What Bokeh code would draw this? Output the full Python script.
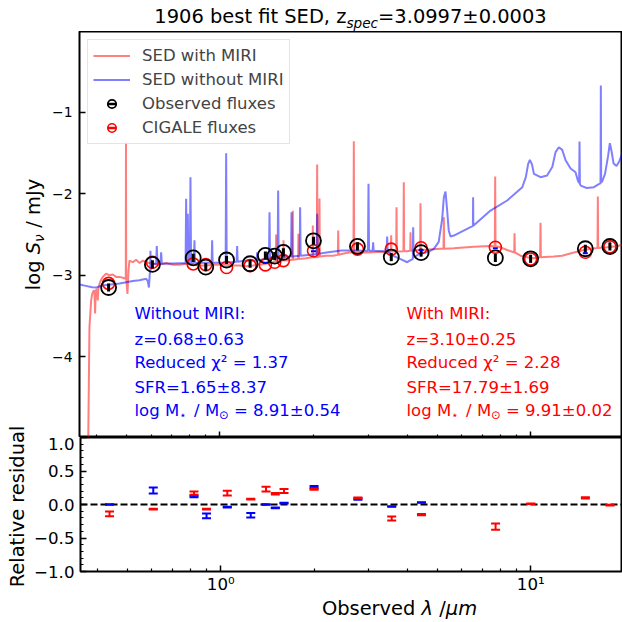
import numpy as np
from bokeh.plotting import figure
from bokeh.models import FixedTicker, Label, Legend, LegendItem, Span, Range1d, GridBox
from bokeh.embed import file_html
from bokeh.resources import INLINE

FONT = "DejaVu Sans"

# ---------------- data ----------------
# SED with MIRI (red), wavelength in micron, log S_nu / mJy
sed_mir_lam = [
    0.353, 0.372, 0.3754, 0.380, 0.3848, 0.3877, 0.3915, 0.3944, 0.3963, 0.3982,
    0.4012, 0.4042, 0.4062, 0.4114, 0.4195, 0.4247, 0.4299, 0.4407, 0.4517, 0.463,
    0.4747, 0.4866, 0.495, 0.4975, 0.4982, 0.4990, 0.5010, 0.5038, 0.5075, 0.5112,
    0.5241, 0.537, 0.5512, 0.5646, 0.5784, 0.5929, 0.6077, 0.638, 0.67, 0.705,
    0.7404, 0.7782, 0.818, 0.8586, 0.902, 0.948, 0.9955, 1.047, 1.10, 1.155,
    1.214, 1.276, 1.34, 1.408, 1.48, 1.513, 1.5165, 1.520, 1.555, 1.598,
    1.6015, 1.605, 1.633, 1.712, 1.716, 1.720, 1.785, 1.789, 1.793, 1.894,
    1.985, 1.990, 1.995, 2.050, 2.055, 2.060, 2.086, 2.091, 2.096, 2.197,
    2.308, 2.396, 2.402, 2.408, 2.462, 2.6, 2.690, 2.697, 2.704, 2.85,
    3.007, 3.2, 3.453, 3.548, 3.557, 3.566, 3.692, 3.701, 3.710, 3.896,
    3.906, 3.916, 4.0, 4.096, 4.106, 4.116, 4.41, 4.421, 4.432, 4.7,
    5.128, 5.243, 5.256, 5.269, 5.661, 6.566, 7.428, 7.67, 7.69, 7.71,
    7.9, 8.405, 8.855, 8.877, 8.899, 9.28, 9.75, 10.19, 10.73, 10.76,
    10.79, 11.88, 12.64, 13.78, 14.84, 15.6, 16.42, 16.46, 16.50, 17.64,
    17.95, 17.99, 18.03, 18.77, 19.77, 20.5]
sed_mir_logf = [
    -6.0, -6.0, -5.5, -3.64, -3.31, -3.23, -3.19, -3.19, -3.47, -3.19,
    -3.17, -3.31, -3.15, -3.08, -3.02, -3.00, -2.98, -3.00, -2.99, -3.02,
    -3.02, -3.03, -3.04, -3.04, -1.37, -3.05, -3.12, -3.23, -2.95, -2.82,
    -2.84, -2.81, -2.85, -2.82, -2.84, -2.85, -2.86, -2.87, -2.85, -2.87,
    -2.87, -2.86, -2.87, -2.88, -2.88, -2.87, -2.87, -2.87, -2.88, -2.88,
    -2.89, -2.88, -2.87, -2.86, -2.84, -2.83, -2.50, -2.83, -2.82, -2.82,
    -2.57, -2.82, -2.82, -2.81, -2.21, -2.81, -2.80, -2.49, -2.80, -2.79,
    -2.78, -2.39, -2.78, -2.78, -1.64, -2.78, -2.77, -2.06, -2.77, -2.76,
    -2.76, -2.75, -2.45, -2.75, -2.74, -2.72, -2.72, -1.356, -2.72, -2.72,
    -2.72, -2.715, -2.715, -2.71, -2.51, -2.71, -2.71, -2.166, -2.71, -2.705,
    -1.859, -2.705, -2.705, -2.70, -2.472, -2.70, -2.69, -2.117, -2.69, -2.685,
    -2.676, -2.675, -2.29, -2.675, -2.67, -2.65, -2.64, -2.645, -1.789, -2.645,
    -2.65, -2.69, -2.72, -2.485, -2.72, -2.76, -2.78, -2.79, -2.78, -2.357,
    -2.78, -2.77, -2.76, -2.72, -2.69, -2.675, -2.667, -2.034, -2.666, -2.656,
    -2.653, -2.57, -2.652, -2.645, -2.627, -2.62]

# SED without MIRI (blue)
sed_nomir_lam = [
    0.353, 0.37, 0.3877, 0.40, 0.4143, 0.4299, 0.4517, 0.4747, 0.4988, 0.524,
    0.55, 0.5784, 0.5855, 0.5905, 0.5944, 0.5963, 0.5973, 0.5983, 0.6077, 0.623,
    0.626, 0.629, 0.643, 0.6465, 0.650, 0.70, 0.7404, 0.775, 0.7782, 0.7814,
    0.7848, 0.7878, 0.7908, 0.800, 0.8035, 0.807, 0.824, 0.8276, 0.831, 0.90,
    0.940, 0.9436, 0.947, 1.00, 1.043, 1.0468, 1.051, 1.131, 1.1357, 1.140,
    1.2141, 1.312, 1.3173, 1.322, 1.40, 1.438, 1.4436, 1.449, 1.533, 1.5392,
    1.545, 1.60, 1.693, 1.6993, 1.706, 1.805, 1.8114, 1.818, 1.99, 2.048,
    2.055, 2.062, 2.2, 2.462, 2.7, 2.995, 3.007, 3.019, 3.10, 3.112,
    3.124, 3.44, 3.453, 3.466, 3.6, 3.8, 4.005, 4.176, 4.188, 4.20,
    4.421, 4.65, 4.88, 5.06, 5.192, 5.256, 5.321, 5.387, 5.45, 5.523,
    5.661, 6.52, 6.53, 6.54, 7.428, 8.405, 9.03, 9.4, 9.65, 9.82,
    9.944, 10.1, 10.25, 10.76, 11.3, 11.75, 12.03, 12.33, 12.64, 12.96,
    13.45, 13.95, 14.2, 14.33, 14.37, 14.41, 14.5, 15.15, 15.98, 16.63,
    16.79, 16.83, 16.87, 17.0, 17.36, 17.77, 17.99, 18.2, 18.5, 18.9,
    19.3, 19.77, 20.5]
sed_nomir_logf = [
    -3.114, -3.13, -3.147, -3.15, -3.13, -3.12, -3.11, -3.10, -3.086, -3.07,
    -3.06, -3.044, -3.07, -3.15, -2.98, -2.95, -2.70, -2.93, -2.86, -2.86,
    -2.64, -2.86, -2.86, -2.72, -2.86, -2.855, -2.852, -2.852, -2.063, -2.852,
    -2.852, -2.247, -2.852, -2.852, -1.797, -2.852, -2.85, -2.57, -2.85, -2.848,
    -2.848, -2.57, -2.848, -2.845, -2.843, -1.503, -2.843, -2.835, -2.64, -2.835,
    -2.82, -2.82, -2.72, -2.82, -2.80, -2.795, -2.227, -2.795, -2.785, -1.961,
    -2.785, -2.78, -2.77, -2.227, -2.77, -2.76, -2.166, -2.76, -2.745, -2.74,
    -2.247, -2.74, -2.72, -2.697, -2.697, -2.70, -1.879, -2.70, -2.70, -2.595,
    -2.70, -2.705, -2.525, -2.705, -2.758, -2.80, -2.84, -2.80, -2.411, -2.78,
    -2.73, -2.718, -2.676, -2.59, -2.308, -2.043, -1.973, -2.206, -2.45, -2.525,
    -2.513, -2.395, -2.043, -2.392, -2.206, -2.083, -1.98, -1.92, -1.797, -1.634,
    -1.584, -1.64, -1.756, -1.797, -1.776, -1.67, -1.49, -1.43, -1.462, -1.59,
    -1.69, -1.736, -1.84, -1.87, -1.36, -1.88, -1.90, -1.93, -1.92, -1.88,
    -1.87, -0.672, -1.86, -1.85, -1.756, -1.53, -1.38, -1.47, -1.63, -1.66,
    -1.60, -1.50, -1.49]

# photometric bands
band_lam = [0.438, 0.606, 0.82, 0.90, 1.05, 1.25, 1.40, 1.50, 1.60, 2.00,
            2.77, 3.56, 4.44, 7.7, 10.0, 15.0, 18.0]
obs_logf = [-3.150, -2.867, -2.787, -2.900, -2.813, -2.859, -2.757, -2.765, -2.720, -2.577,
            -2.645, -2.777, -2.722, -2.787, -2.798, -2.675, -2.647]
obs_err = [0.05, 0.05, 0.05, 0.05, 0.05, 0.05, 0.05, 0.05, 0.05, 0.05,
           0.05, 0.05, 0.05, 0.05, 0.05, 0.05, 0.05]
cigale_logf = [-3.100, -2.840, -2.861, -2.870, -2.905, -2.882, -2.873, -2.840, -2.820, -2.700,
               -2.680, -2.680, -2.662, -2.656, -2.800, -2.718, -2.650]
blue_mark_lam = [1.40, 2.00, 4.44, 7.7, 15.0]
blue_mark_logf = [-2.848, -2.705, -2.689, -2.669, -2.730]

# relative residuals
nir_lam = [0.438, 0.606, 0.82, 0.90, 1.05, 1.25, 1.40, 1.50, 1.60, 2.00, 2.77, 3.56, 4.44]
res_blue = [0.00, 0.21, 0.12, -0.17, -0.04, -0.16, 0.00, -0.05, 0.02, 0.26, 0.08, -0.03, 0.03]
res_blue_err = [0.005, 0.045, 0.012, 0.035, 0.006, 0.035, 0.003, 0.006, 0.006, 0.015, 0.008, 0.005, 0.005]
res_red = [-0.14, -0.07, 0.17, -0.07, 0.17, 0.08, 0.23, 0.16, 0.20, 0.23,
           0.10, -0.21, -0.15, -0.33, 0.01, 0.10, -0.01]
res_red_err = [0.035, 0.006, 0.025, 0.006, 0.035, 0.006, 0.035, 0.012, 0.03, 0.01,
               0.006, 0.03, 0.01, 0.045, 0.004, 0.01, 0.006]

# ticks
x_major = [1, 10]
x_minor = [0.4, 0.5, 0.6, 0.7, 0.8, 0.9, 2, 3, 4, 5, 6, 7, 8, 9]
x_labels = {1: "10\u2070", 10: "10\u00b9"}
y1_major = [-4, -3, -2, -1]
y1_labels = {-4: "\u22124", -3: "\u22123", -2: "\u22122", -1: "\u22121"}
y2_major = [-1, -0.5, 0, 0.5, 1]
y2_minor = [-0.9, -0.8, -0.7, -0.6, -0.4, -0.3, -0.2, -0.1, 0.1, 0.2, 0.3, 0.4, 0.6, 0.7, 0.8, 0.9]
y2_labels = {-1: "\u22121.0", -0.5: "\u22120.5", 0: "0.0", 0.5: "0.5", 1: "1.0"}

# ---------------- layout (grid tracks in px) ----------------
ROWS = [31, 392, 14, 159, 26]
COLS = [31, 16, 575]
T = 19.44      # title / axis-label font px
A = 16.5       # legend / annotation font px
MID = 0.35     # offset (em) between Bokeh's anchor line and the alphabetic baseline

xr = Range1d(0.353, 19.76)


def blank(w, h):
    f = figure(width=w, height=h, output_backend="svg", toolbar_location=None,
               x_range=Range1d(0, 1), y_range=Range1d(0, 1),
               min_border_left=0, min_border_right=0, min_border_top=0, min_border_bottom=0,
               x_axis_location=None, y_axis_location=None)
    f.outline_line_color = None
    f.background_fill_color = "white"
    f.border_fill_color = "white"
    f.xgrid.visible = False
    f.ygrid.visible = False
    return f


p1 = figure(width=COLS[2], height=ROWS[1] + ROWS[2], x_axis_type="log", x_range=xr,
            y_range=Range1d(-4.99, -0.01), output_backend="svg", toolbar_location=None,
            min_border_left=79 - COLS[0] - COLS[1], min_border_right=0,
            min_border_top=0, min_border_bottom=0)
p2 = figure(width=COLS[1] + COLS[2], height=ROWS[3], x_axis_type="log", x_range=xr,
            y_range=Range1d(-1, 1), output_backend="svg", toolbar_location=None,
            min_border_left=79 - COLS[0], min_border_right=0, min_border_top=0,
            min_border_bottom=ROWS[3] - 136)

for p, fs in ((p1, "13.9px"), (p2, "16.67px")):
    p.xgrid.visible = False
    p.ygrid.visible = False
    p.outline_line_color = "black"
    p.outline_line_width = 2
    p.outline_line_alpha = 1
    p.background_fill_color = "white"
    p.border_fill_color = "white"
    for ax in (p.xaxis[0], p.yaxis[0]):
        ax.axis_line_color = None
        ax.major_tick_in = 6
        ax.major_tick_out = 0
        ax.minor_tick_in = 3
        ax.minor_tick_out = 0
        ax.major_tick_line_color = "black"
        ax.minor_tick_line_color = "black"
        ax.major_tick_line_width = 1.5
        ax.minor_tick_line_width = 1.2
        ax.major_label_text_font = FONT
        ax.major_label_text_font_size = fs
        ax.major_label_text_color = "black"
    p.xaxis.ticker = FixedTicker(ticks=x_major, minor_ticks=x_minor)

p1.xaxis.major_label_overrides = {k: "" for k in x_major}
p1.xaxis.major_label_text_font_size = "0px"
p1.xaxis.major_label_standoff = 0
p1.yaxis.ticker = FixedTicker(ticks=y1_major)
p1.yaxis.major_label_overrides = y1_labels
p1.yaxis.major_label_standoff = 7

p2.xaxis.major_label_overrides = x_labels
p2.xaxis.major_label_standoff = 3
p2.yaxis.ticker = FixedTicker(ticks=y2_major, minor_ticks=y2_minor)
p2.yaxis.major_label_overrides = y2_labels
p2.yaxis.major_label_standoff = 6

# ---------------- top panel ----------------
r_red = p1.line(sed_mir_lam, sed_mir_logf, line_color="red", line_alpha=0.5, line_width=2)
r_blue = p1.line(sed_nomir_lam, sed_nomir_logf, line_color="blue", line_alpha=0.5, line_width=2)

obs = np.array(obs_logf)
oerr = np.array(obs_err)
r_cig = p1.scatter(band_lam, cigale_logf, marker="circle", size=12, fill_color=None,
                   line_color="red", line_width=1.6)
r_cig_bar = p1.scatter(band_lam, cigale_logf, marker="dash", angle=np.pi / 2, size=0,
                       line_color="red", line_width=2.5)
r_obs = p1.scatter(band_lam, obs_logf, marker="circle", size=15, fill_color=None,
                   line_color="black", line_width=1.8)
p1.segment(x0=band_lam, y0=list(obs - oerr), x1=band_lam, y1=list(obs + oerr),
           line_color="black", line_width=3)
r_obs_bar = p1.scatter(band_lam, obs_logf, marker="dash", angle=np.pi / 2, size=0,
                       line_color="black", line_width=2.5)
p1.scatter(blue_mark_lam, blue_mark_logf, marker="dash", size=5, line_color="blue", line_width=2)

legend = Legend(items=[
    LegendItem(label="SED with MIRI", renderers=[r_red]),
    LegendItem(label="SED without MIRI", renderers=[r_blue]),
    LegendItem(label="Observed fluxes", renderers=[r_obs, r_obs_bar]),
    LegendItem(label="CIGALE fluxes", renderers=[r_cig, r_cig_bar]),
], location="top_left")
legend.margin = 8
legend.padding = 5
legend.spacing = 3
legend.glyph_width = 37
legend.glyph_height = 21
legend.label_height = 21
legend.label_standoff = 12
legend.label_text_font = FONT
legend.label_text_font_size = "%.2fpx" % A
legend.border_line_color = "#cccccc"
legend.border_line_width = 1
legend.background_fill_alpha = 0.8
p1.add_layout(legend)

# ---------------- bottom panel ----------------
zero = Span(location=0, dimension="width", line_color="black", line_width=2,
            line_dash="7 3", level="underlay")
p2.add_layout(zero)

for lam, res, err, col in ((nir_lam, res_blue, res_blue_err, "blue"),
                           (band_lam, res_red, res_red_err, "red")):
    r = np.array(res)
    e = np.array(err)
    p2.segment(x0=lam, y0=list(r - e), x1=lam, y1=list(r + e), line_color=col, line_width=2)
    p2.scatter(lam, list(r - e), marker="dash", size=9, line_color=col, line_width=2)
    p2.scatter(lam, list(r + e), marker="dash", size=9, line_color=col, line_width=2)

# ---------------- texts ----------------
CW = {' ': 0.318, '.': 0.318, ',': 0.318, '=': 0.838, '\u00b1': 0.838, '/': 0.337, ':': 0.337,
      'a': 0.613, 'b': 0.635, 'c': 0.550, 'd': 0.635, 'e': 0.615, 'f': 0.352, 'g': 0.635,
      'h': 0.634, 'i': 0.278, 'l': 0.278, 'm': 0.974, 'n': 0.634, 'o': 0.612, 'p': 0.635,
      'r': 0.411, 's': 0.521, 't': 0.392, 'u': 0.634, 'v': 0.592, 'y': 0.592, 'z': 0.525,
      'D': 0.770, 'E': 0.632, 'J': 0.295, 'M': 0.863, 'O': 0.787, 'S': 0.635,
      '\u03bb': 0.592, '\u03bc': 0.636, '\u03bd': 0.592, '\u22c6': 0.838, '\u2299': 0.838}
for d in "0123456789":
    CW[d] = 0.636


def tw(s, px):
    return sum(CW.get(c, 0.6) for c in s) * px


def seg_label(p, x, y, text, px, color, style="normal", angle=0.0, align="left"):
    """(x, y): alphabetic baseline start, screen units from the frame's bottom-left."""
    if angle == 0:
        y = y + MID * px
    else:
        x = x - MID * px
    p.add_layout(Label(x=x, y=y, x_units="screen", y_units="screen", text=text,
                       text_font=FONT, text_font_size="%.2fpx" % px, text_color=color,
                       text_font_style=style, angle=angle, text_align=align,
                       text_baseline="alphabetic"))


def rich(p, x0, y0, segs, color, angle=0.0):
    """segs: (text, px, style, drop)"""
    pos = x0 if angle == 0 else y0
    for text, px, style, drop in segs:
        t = text.lstrip(" ")
        pos += (len(text) - len(t)) * CW[" "] * px
        if t:
            if angle == 0:
                seg_label(p, pos, y0 - drop, t, px, color, style)
            else:
                seg_label(p, x0 + drop, pos, t, px, color, style, angle=angle)
        pos += tw(t, px)


def rich_width(segs):
    return sum(tw(t, px) for t, px, _, _ in segs)


# title strip (canvas y 0..31)
titlefig = blank(sum(COLS), ROWS[0])
title_segs = [("1906 best fit SED, z", T, "normal", 0), ("spec", T * 0.7, "italic", 4),
              ("=3.0997\u00b10.0003", T, "normal", 0)]
rich(titlefig, 350 - rich_width(title_segs) / 2, ROWS[0] - 23, title_segs, "black")

# left strip of the top panel (canvas x 0..47, y 31..423)
l1 = blank(COLS[0] + COLS[1], ROWS[1])
ylab_segs = [("log ", T, "normal", 0), ("S", T, "italic", 0), ("\u03bd", T * 0.7, "italic", 4),
             (" / mJy", T, "normal", 0)]
l1_bottom = ROWS[0] + ROWS[1]
rich(l1, 39.5, (l1_bottom - 234) - rich_width(ylab_segs) / 2, ylab_segs, "black", angle=np.pi / 2)

# left strip of the residual panel (canvas x 0..31, y 423..622)
l2 = blank(COLS[0], ROWS[2] + ROWS[3] + ROWS[4])
seg_label(l2, 23.4, 622 - 506, "Relative residual", T, "black", angle=np.pi / 2, align="center")

# x label strip (canvas x 31..622, y 596..622)
bottomfig = blank(COLS[1] + COLS[2], ROWS[4])
xl_segs = [("Observed ", T, "normal", 0), ("\u03bb", T, "italic", 0), (" /", T, "normal", 0),
           ("\u03bcm", T, "italic", 0)]
rich(bottomfig, 350 - COLS[0] - rich_width(xl_segs) / 2, 622 - 615, xl_segs, "black")

# annotation blocks inside the top panel (frame bottom-left at canvas (79, 437))
F_LEFT, F_BOT = 79, 437
rows_base = [319, 344.3, 367.7, 392.7, 416]
blocks = [
    (134, "blue", ["Without MIRI:", "z=0.68\u00b10.63", "Reduced \u03c7\u00b2 = 1.37", "SFR=1.65\u00b18.37"],
     " = 8.91\u00b10.54"),
    (406, "red", ["With MIRI:", "z=3.10\u00b10.25", "Reduced \u03c7\u00b2 = 2.28", "SFR=17.79\u00b11.69"],
     " = 9.91\u00b10.02"),
]
for bx, col, lines, mass in blocks:
    for txt, yb in zip(lines, rows_base[:4]):
        seg_label(p1, bx - F_LEFT, F_BOT - yb, txt, A, col)
    msegs = [("log M", A, "normal", 0), ("\u22c6", A * 0.7, "normal", 3), (" / M", A, "normal", 0),
             ("\u2299", A * 0.7, "normal", 3), (mass, A, "normal", 0)]
    rich(p1, bx - F_LEFT, F_BOT - rows_base[4], msegs, col)

children = [
    (titlefig, 0, 0, 1, 3),
    (l1, 1, 0, 1, 2),
    (p1, 1, 2, 2, 1),
    (l2, 2, 0, 3, 1),
    (p2, 3, 1, 1, 2),
    (bottomfig, 4, 1, 1, 2),
]
try:
    grid = GridBox(children=children, rows=ROWS, cols=COLS, spacing=0)
except Exception:
    grid = GridBox(children=children, spacing=0)

open("out.html", "w").write(file_html(grid, INLINE))
